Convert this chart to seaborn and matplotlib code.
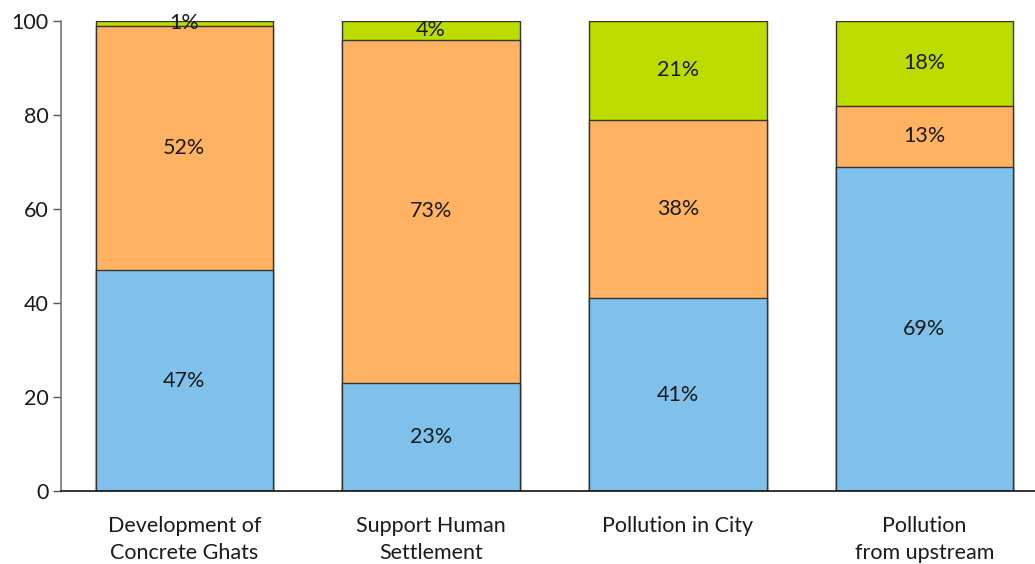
import matplotlib
matplotlib.use("Agg")
import matplotlib.pyplot as plt
import seaborn as sns
import pandas as pd
import numpy as np

categories = ["Development of\nConcrete Ghats", "Support Human\nSettlement",
              "Pollution in City", "Pollution\nfrom upstream"]
blue_vals = [47, 23, 41, 69]
orange_vals = [52, 73, 38, 13]
green_vals = [1, 4, 21, 18]

blue_c = "#7fc1ea"
orange_c = "#ffb362"
green_c = "#bcdc00"

sns.set_theme(style="white")
plt.rcParams["font.family"] = ["Lato", "DejaVu Sans"]

df = pd.DataFrame({
    "category": categories,
    "blue": blue_vals,
    "orange": orange_vals,
    "green": green_vals,
})
df["lvl2"] = df["blue"] + df["orange"]
df["lvl3"] = df["lvl2"] + df["green"]

fig = plt.figure(figsize=(10.35, 5.64), dpi=100)
ax = fig.add_axes([61 / 1035, 73 / 564, 1 - 61 / 1035, (491 - 21) / 564])

edge = dict(edgecolor="#333333", linewidth=1.0)
for col, color in [("lvl3", green_c), ("lvl2", orange_c), ("blue", blue_c)]:
    sns.barplot(data=df, x="category", y=col, color=color, width=0.72,
                saturation=1, ax=ax, **edge)

FS = 15.5

# segment value labels
for i in range(len(categories)):
    base = 0
    for v in (blue_vals[i], orange_vals[i], green_vals[i]):
        ax.text(i, base + v / 2, f"{v}%", ha="center", va="center",
                fontsize=FS, color="#1a1a1a")
        base += v

ax.set_xlim(-0.5, 3.448)
ax.set_ylim(0, 100)
ax.set_yticks([0, 20, 40, 60, 80, 100])
ax.set_xlabel("")
ax.set_ylabel("")

# category labels centred, tick marks on category boundaries
ax.set_xticks(range(len(categories)))
ax.set_xticklabels(categories, fontsize=FS, color="#1a1a1a", linespacing=1.45)
ax.tick_params(axis="x", which="major", length=0, pad=18)
ax.set_xticks([-0.5, 0.5, 1.5, 2.5], minor=True)
ax.tick_params(axis="x", which="minor", length=11, width=1, color="#222222",
               direction="out")
ax.tick_params(axis="y", length=6, width=1, color="#555555", direction="out",
               labelsize=FS, labelcolor="#1a1a1a", pad=3, left=True)

for s in ("top", "right"):
    ax.spines[s].set_visible(False)
ax.spines["left"].set_color("#777777")
ax.spines["left"].set_linewidth(1.2)
ax.spines["bottom"].set_color("#111111")
ax.spines["bottom"].set_linewidth(1.2)
ax.grid(False)

fig.savefig("out.png", dpi=100)
